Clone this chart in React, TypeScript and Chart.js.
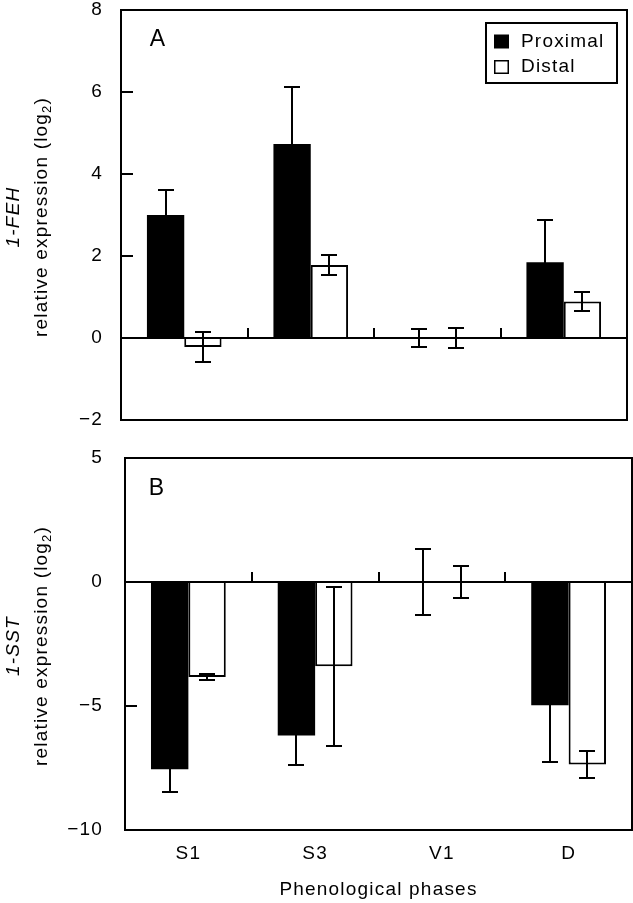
import React, { useEffect, useRef } from 'react';
import { Chart, registerables } from 'chart.js';

Chart.register(...registerables);

const categories = ['S1', 'S3', 'V1', 'D'];
const seriesNames = ['Proximal', 'Distal'];

const fehProximal = [3.0, 4.73, 0.0, 1.85];
const fehProximalErr = [0.6, 1.38, 0.21, 1.03];
const fehDistal = [-0.22, 1.78, 0.0, 0.89];
const fehDistalErr = [0.37, 0.25, 0.25, 0.24];

const sstProximal = [-7.55, -6.19, 0.0, -4.97];
const sstProximalErr = [0.9, 1.17, 1.33, 2.3];
const sstDistal = [-3.83, -3.4, 0.0, -7.36];
const sstDistalErr = [0.13, 3.2, 0.63, 0.55];

const fehTicks = [8, 6, 4, 2, 0, -2];
const sstTicks = [5, 0, -5, -10];

const panelLetters = ['A', 'B'];
const geneNames = ['1-FEH', '1-SST'];
const yTitleMain = 'relative expression (log';
const yTitleSub = '2';
const yTitleEnd = ')';
const xTitle = 'Phenological phases';

const FONT = '"Liberation Sans", Arial, Helvetica, sans-serif';
const SPACING = '1.2px';
const FS = 19;

type PanelOpts = {
  prox: number[];
  proxErr: number[];
  dist: number[];
  distErr: number[];
  ticks: number[];
  letter: string;
  gene: string;
  showX: boolean;
  legend: boolean;
  yWidth: number;
  yGap: number;
  padTop: number;
  padRight: number;
  padBottom: number;
  xHeight: number;
  letterDx: number;
  letterDy: number;
};

function fmtTick(v: number): string {
  return v < 0 ? '\u2212' + Math.abs(v) : String(v);
}

function makeDecor(o: PanelOpts) {
  return {
    id: 'decor',
    beforeDraw(chart: any) {
      chart.ctx.letterSpacing = SPACING;
    },
    afterDatasetsDraw(chart: any) {
      const { ctx, chartArea: ca, scales } = chart;
      const xs = scales.x;
      const ys = scales.y;
      const L = Math.round(ca.left);
      const R = Math.round(ca.right);
      const T = Math.round(ca.top);
      const B = Math.round(ca.bottom);
      ctx.save();
      ctx.strokeStyle = '#000';
      ctx.lineWidth = 2;
      ctx.lineCap = 'butt';

      // error bars
      const errs = [o.proxErr, o.distErr];
      errs.forEach((arr, di) => {
        const meta = chart.getDatasetMeta(di);
        meta.data.forEach((bar: any, j: number) => {
          const v = chart.data.datasets[di].data[j];
          const e = arr[j];
          const yt = Math.round(ys.getPixelForValue(v + e));
          const yb = Math.round(ys.getPixelForValue(v - e));
          const bx = Math.round(bar.x);
          ctx.beginPath();
          ctx.moveTo(bx, yt);
          ctx.lineTo(bx, yb);
          ctx.moveTo(bx - 8, yt);
          ctx.lineTo(bx + 8, yt);
          ctx.moveTo(bx - 8, yb);
          ctx.lineTo(bx + 8, yb);
          ctx.stroke();
        });
      });

      // zero line
      const y0 = Math.round(ys.getPixelForValue(0));
      ctx.beginPath();
      ctx.moveTo(L, y0);
      ctx.lineTo(R, y0);
      ctx.stroke();

      // category boundary ticks on zero line
      for (let j = 1; j < categories.length; j++) {
        const bx = Math.round((xs.getPixelForValue(j - 1) + xs.getPixelForValue(j)) / 2);
        ctx.beginPath();
        ctx.moveTo(bx, y0);
        ctx.lineTo(bx, y0 - 10);
        ctx.stroke();
      }

      // inward y ticks
      const mn = Math.min(...o.ticks);
      const mx = Math.max(...o.ticks);
      o.ticks.forEach((t) => {
        if (t === mn || t === mx || t === 0) return;
        const ty = Math.round(ys.getPixelForValue(t));
        ctx.beginPath();
        ctx.moveTo(L, ty);
        ctx.lineTo(L + 12, ty);
        ctx.stroke();
      });

      // frame
      ctx.strokeRect(L, T, R - L, B - T);
      ctx.restore();
    },
    afterDraw(chart: any) {
      const { ctx, chartArea: ca } = chart;
      ctx.save();
      ctx.letterSpacing = SPACING;
      ctx.fillStyle = '#000';

      // panel letter
      ctx.font = '23px ' + FONT;
      ctx.textAlign = 'center';
      ctx.textBaseline = 'middle';
      ctx.fillText(o.letter, ca.left + o.letterDx, ca.top + o.letterDy);

      // y title (rotated)
      const cy = (ca.top + ca.bottom) / 2 + 2;
      ctx.save();
      ctx.translate(14, cy);
      ctx.rotate(-Math.PI / 2);
      ctx.font = 'italic ' + FS + 'px ' + FONT;
      ctx.textAlign = 'center';
      ctx.textBaseline = 'middle';
      ctx.fillText(o.gene, 0, 0);
      ctx.restore();

      ctx.save();
      ctx.translate(42, cy);
      ctx.rotate(-Math.PI / 2);
      ctx.textAlign = 'left';
      ctx.textBaseline = 'middle';
      ctx.font = FS + 'px ' + FONT;
      const w1 = ctx.measureText(yTitleMain).width;
      const w3 = ctx.measureText(yTitleEnd).width;
      ctx.font = '13px ' + FONT;
      const w2 = ctx.measureText(yTitleSub).width;
      const total = w1 + w2 + w3;
      let px = -total / 2;
      ctx.font = FS + 'px ' + FONT;
      ctx.fillText(yTitleMain, px, 0);
      px += w1;
      ctx.font = '13px ' + FONT;
      ctx.fillText(yTitleSub, px, 5);
      px += w2;
      ctx.font = FS + 'px ' + FONT;
      ctx.fillText(yTitleEnd, px, 0);
      ctx.restore();

      // x title
      if (o.showX) {
        ctx.font = FS + 'px ' + FONT;
        ctx.textAlign = 'center';
        ctx.textBaseline = 'middle';
        ctx.fillText(xTitle, (ca.left + ca.right) / 2, ca.bottom + 60);
      }

      // legend
      if (o.legend) {
        ctx.font = FS + 'px ' + FONT;
        const maxW = Math.max(...seriesNames.map((s) => ctx.measureText(s).width));
        const boxR = Math.round(ca.right) - 10;
        const boxT = Math.round(ca.top) + 13;
        const boxW = Math.round(8 + 15 + 12 + maxW + 12);
        const boxH = 60;
        const boxL = boxR - boxW;
        ctx.fillStyle = '#fff';
        ctx.fillRect(boxL, boxT, boxW, boxH);
        ctx.strokeStyle = '#000';
        ctx.lineWidth = 2;
        ctx.strokeRect(boxL, boxT, boxW, boxH);
        const rows = [boxT + 18.5, boxT + 44];
        seriesNames.forEach((name, i) => {
          const ry = rows[i];
          const sx = boxL + 8;
          if (i === 0) {
            ctx.fillStyle = '#000';
            ctx.fillRect(sx, ry - 7, 15, 14);
          } else {
            ctx.fillStyle = '#fff';
            ctx.fillRect(sx, ry - 7, 15, 14);
            ctx.lineWidth = 1.5;
            ctx.strokeRect(sx + 0.75, ry - 6.25, 13.5, 12.5);
          }
          ctx.fillStyle = '#000';
          ctx.textAlign = 'left';
          ctx.textBaseline = 'middle';
          ctx.fillText(name, sx + 15 + 12, ry);
        });
      }
      ctx.restore();
    },
  };
}

function buildConfig(o: PanelOpts): any {
  const mn = Math.min(...o.ticks);
  const mx = Math.max(...o.ticks);
  const step = Math.abs(o.ticks[0] - o.ticks[1]);
  return {
    type: 'bar',
    data: {
      labels: categories,
      datasets: [
        {
          label: seriesNames[0],
          data: o.prox,
          backgroundColor: '#000',
          borderColor: '#000',
          borderWidth: 0,
        },
        {
          label: seriesNames[1],
          data: o.dist,
          backgroundColor: '#fff',
          borderColor: '#000',
          borderWidth: 2,
        },
      ],
    },
    options: {
      animation: false,
      responsive: false,
      devicePixelRatio: 1,
      datasets: { bar: { categoryPercentage: 0.59, barPercentage: 1 } },
      layout: {
        autoPadding: false,
        padding: { top: o.padTop, right: o.padRight, bottom: o.padBottom, left: 0 },
      },
      plugins: {
        legend: { display: false },
        tooltip: { enabled: false },
        title: { display: false },
      },
      scales: {
        x: {
          display: o.showX,
          grid: { display: false, drawTicks: false },
          border: { display: false },
          ticks: { color: '#000', padding: 12, font: { family: FONT, size: FS } },
          afterFit: (s: any) => {
            s.height = o.xHeight;
          },
        },
        y: {
          min: mn,
          max: mx,
          grid: { display: false, drawTicks: true, tickLength: o.yGap },
          border: { display: false },
          ticks: {
            stepSize: step,
            color: '#000',
            padding: 0,
            font: { family: FONT, size: FS, lineHeight: 1 },
            callback: (v: number) => fmtTick(v),
          },
          afterFit: (s: any) => {
            s.width = o.yWidth;
          },
        },
      },
    },
    plugins: [makeDecor(o)],
  };
}

function Panel({ opts, top, height }: { opts: PanelOpts; top: number; height: number }) {
  const ref = useRef<HTMLCanvasElement | null>(null);
  useEffect(() => {
    if (!ref.current) return;
    const chart = new Chart(ref.current, buildConfig(opts));
    return () => chart.destroy();
  }, []);
  return (
    <canvas
      ref={ref}
      width={633}
      height={height}
      style={{ position: 'absolute', left: 0, top, width: 633, height }}
    />
  );
}

const topOpts: PanelOpts = {
  prox: fehProximal,
  proxErr: fehProximalErr,
  dist: fehDistal,
  distErr: fehDistalErr,
  ticks: fehTicks,
  letter: panelLetters[0],
  gene: geneNames[0],
  showX: false,
  legend: true,
  yWidth: 121,
  yGap: 18,
  padTop: 10,
  padRight: 6,
  padBottom: 20,
  xHeight: 0,
  letterDx: 37,
  letterDy: 30,
};

const bottomOpts: PanelOpts = {
  prox: sstProximal,
  proxErr: sstProximalErr,
  dist: sstDistal,
  distErr: sstDistalErr,
  ticks: sstTicks,
  letter: panelLetters[1],
  gene: geneNames[1],
  showX: true,
  legend: false,
  yWidth: 125,
  yGap: 22,
  padTop: 18,
  padRight: 1,
  padBottom: 0,
  xHeight: 73,
  letterDx: 32,
  letterDy: 31,
};

export default function App() {
  return (
    <div style={{ position: 'absolute', left: 0, top: 0, width: 633, height: 903, background: '#fff' }}>
      <Panel opts={topOpts} top={0} height={440} />
      <Panel opts={bottomOpts} top={440} height={463} />
    </div>
  );
}
